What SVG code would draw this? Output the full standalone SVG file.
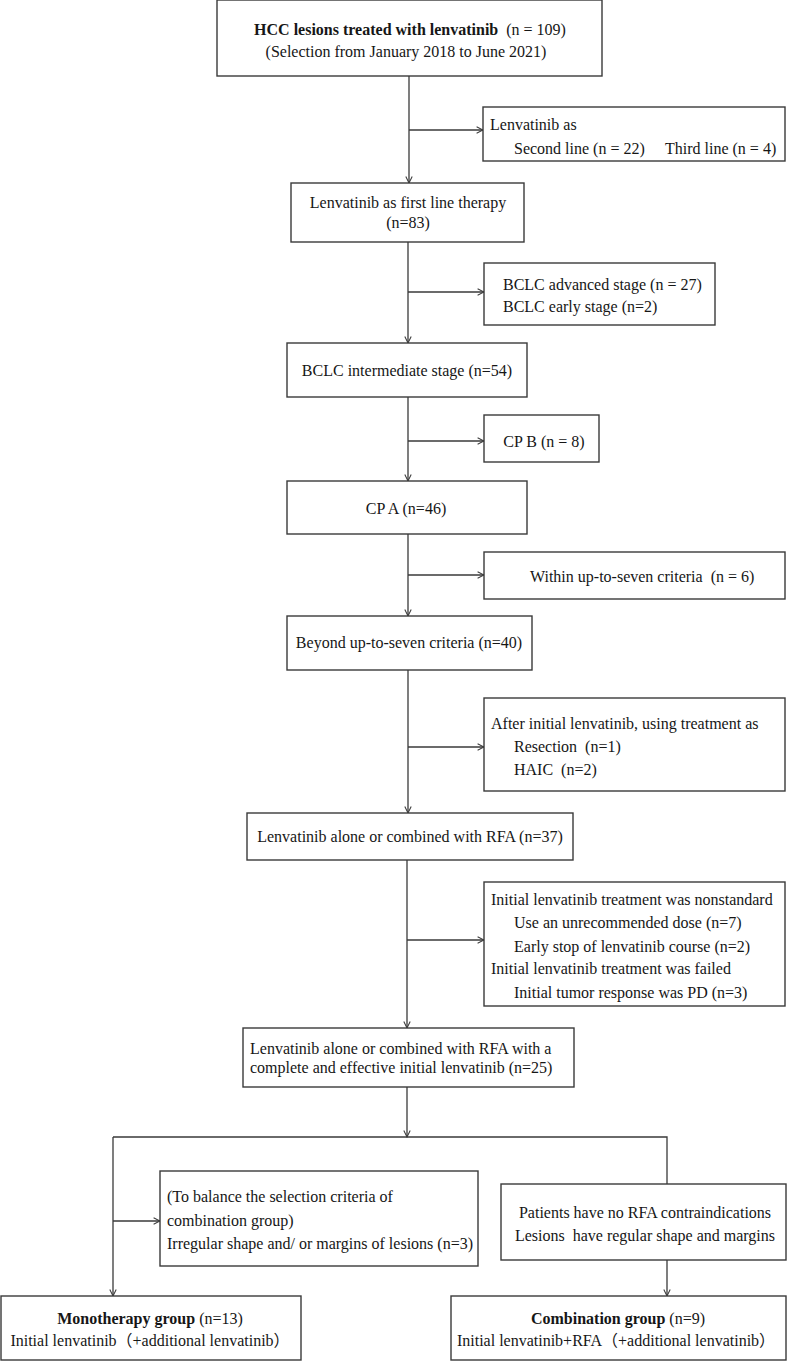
<svg xmlns="http://www.w3.org/2000/svg" width="787" height="1361" viewBox="0 0 787 1361">
<defs>
<style>
.box{fill:#fff;stroke:#3a3a3a;stroke-width:1.4}
.ln{fill:none;stroke:#3a3a3a;stroke-width:1.3}
text{font-family:"Liberation Serif","Times New Roman","Noto Sans CJK SC",serif;font-size:16px;fill:#161616;white-space:pre}
.c{text-anchor:middle}
.b{font-weight:bold}
</style>
<marker id="ah" viewBox="0 0 10 10" refX="9" refY="5" markerWidth="8" markerHeight="8" markerUnits="userSpaceOnUse" orient="auto">
<path d="M1,1 L9,5 L1,9" fill="none" stroke="#3a3a3a" stroke-width="1.3"/>
</marker>
</defs>
<rect width="787" height="1361" fill="#fff"/>

<g id="connectors">
<path class="ln" d="M409,76 V183" marker-end="url(#ah)"/>
<path class="ln" d="M409,130 H483" marker-end="url(#ah)"/>
<path class="ln" d="M408,242 V343" marker-end="url(#ah)"/>
<path class="ln" d="M408,292 H484" marker-end="url(#ah)"/>
<path class="ln" d="M408,397 V481" marker-end="url(#ah)"/>
<path class="ln" d="M408,441 H484" marker-end="url(#ah)"/>
<path class="ln" d="M408,534 V616" marker-end="url(#ah)"/>
<path class="ln" d="M408,575 H484" marker-end="url(#ah)"/>
<path class="ln" d="M408,670 V813" marker-end="url(#ah)"/>
<path class="ln" d="M408,747 H484" marker-end="url(#ah)"/>
<path class="ln" d="M407,860 V1028" marker-end="url(#ah)"/>
<path class="ln" d="M407,940 H484" marker-end="url(#ah)"/>
<path class="ln" d="M407,1087 V1137" marker-end="url(#ah)"/>
<path class="ln" d="M113,1137 H667 V1184"/>
<path class="ln" d="M113,1137 V1296" marker-end="url(#ah)"/>
<path class="ln" d="M113,1221 H160" marker-end="url(#ah)"/>
<path class="ln" d="M667,1260 V1296" marker-end="url(#ah)"/>
</g>

<g id="n-hcc">
<rect class="box" x="217" y="0" width="385" height="76"/>
<text class="c" x="410" y="35"><tspan class="b">HCC lesions treated with lenvatinib</tspan>  (n = 109)</text>
<text class="c" x="406" y="57">(Selection from January 2018 to June 2021)</text>
</g>

<g id="n-lineex">
<rect class="box" x="483" y="107" width="302" height="54"/>
<text x="490" y="130">Lenvatinib as</text>
<text x="514" y="154">Second line (n = 22)</text>
<text x="665" y="154">Third line (n = 4)</text>
</g>

<g id="n-first">
<rect class="box" x="291" y="183" width="233" height="59"/>
<text class="c" x="408" y="208">Lenvatinib as first line therapy</text>
<text class="c" x="408" y="228">(n=83)</text>
</g>

<g id="n-bclcex">
<rect class="box" x="484" y="263" width="231" height="62"/>
<text x="503" y="290">BCLC advanced stage (n = 27)</text>
<text x="503" y="312">BCLC early stage (n=2)</text>
</g>

<g id="n-bclcint">
<rect class="box" x="287" y="343" width="240" height="54"/>
<text class="c" x="407" y="376">BCLC intermediate stage (n=54)</text>
</g>

<g id="n-cpb">
<rect class="box" x="484" y="415" width="115" height="47"/>
<text class="c" x="544" y="447">CP B (n = 8)</text>
</g>

<g id="n-cpa">
<rect class="box" x="287" y="481" width="240" height="53"/>
<text class="c" x="406" y="514">CP A (n=46)</text>
</g>

<g id="n-within">
<rect class="box" x="484" y="552" width="301" height="47"/>
<text x="530" y="582">Within up-to-seven criteria  (n = 6)</text>
</g>

<g id="n-beyond">
<rect class="box" x="287" y="616" width="245" height="54"/>
<text class="c" x="409" y="648">Beyond up-to-seven criteria (n=40)</text>
</g>

<g id="n-after">
<rect class="box" x="484" y="698" width="301" height="93"/>
<text x="491" y="729">After initial lenvatinib, using treatment as</text>
<text x="514" y="752">Resection  (n=1)</text>
<text x="514" y="775">HAIC  (n=2)</text>
</g>

<g id="n-alone">
<rect class="box" x="247" y="813" width="326" height="47"/>
<text class="c" x="410" y="842">Lenvatinib alone or combined with RFA (n=37)</text>
</g>

<g id="n-nonstd">
<rect class="box" x="484" y="882" width="301" height="124"/>
<text x="491" y="905">Initial lenvatinib treatment was nonstandard</text>
<text x="514" y="928">Use an unrecommended dose (n=7)</text>
<text x="514" y="952">Early stop of lenvatinib course (n=2)</text>
<text x="491" y="974">Initial lenvatinib treatment was failed</text>
<text x="514" y="998">Initial tumor response was PD (n=3)</text>
</g>

<g id="n-complete">
<rect class="box" x="243" y="1028" width="331" height="59"/>
<text x="250" y="1054">Lenvatinib alone or combined with RFA with a</text>
<text x="250" y="1073">complete and effective initial lenvatinib (n=25)</text>
</g>

<g id="n-balance">
<rect class="box" x="160" y="1171" width="318" height="95"/>
<text x="167" y="1202">(To balance the selection criteria of</text>
<text x="167" y="1226">combination group)</text>
<text x="167" y="1249">Irregular shape and/ or margins of lesions (n=3)</text>
</g>

<g id="n-patients">
<rect class="box" x="501" y="1184" width="285" height="76"/>
<text class="c" x="645" y="1218">Patients have no RFA contraindications</text>
<text class="c" x="645" y="1241">Lesions  have regular shape and margins</text>
</g>

<g id="n-mono">
<rect class="box" x="1" y="1296" width="300" height="64"/>
<text class="c" x="150" y="1324"><tspan class="b">Monotherapy group</tspan> (n=13)</text>
<text class="c" x="150" y="1346">Initial lenvatinib（+additional lenvatinib）</text>
</g>

<g id="n-combo">
<rect class="box" x="451" y="1296" width="335" height="64"/>
<text class="c" x="618" y="1324"><tspan class="b">Combination group</tspan> (n=9)</text>
<text class="c" x="616" y="1346">Initial lenvatinib+RFA（+additional lenvatinib）</text>
</g>
</svg>
